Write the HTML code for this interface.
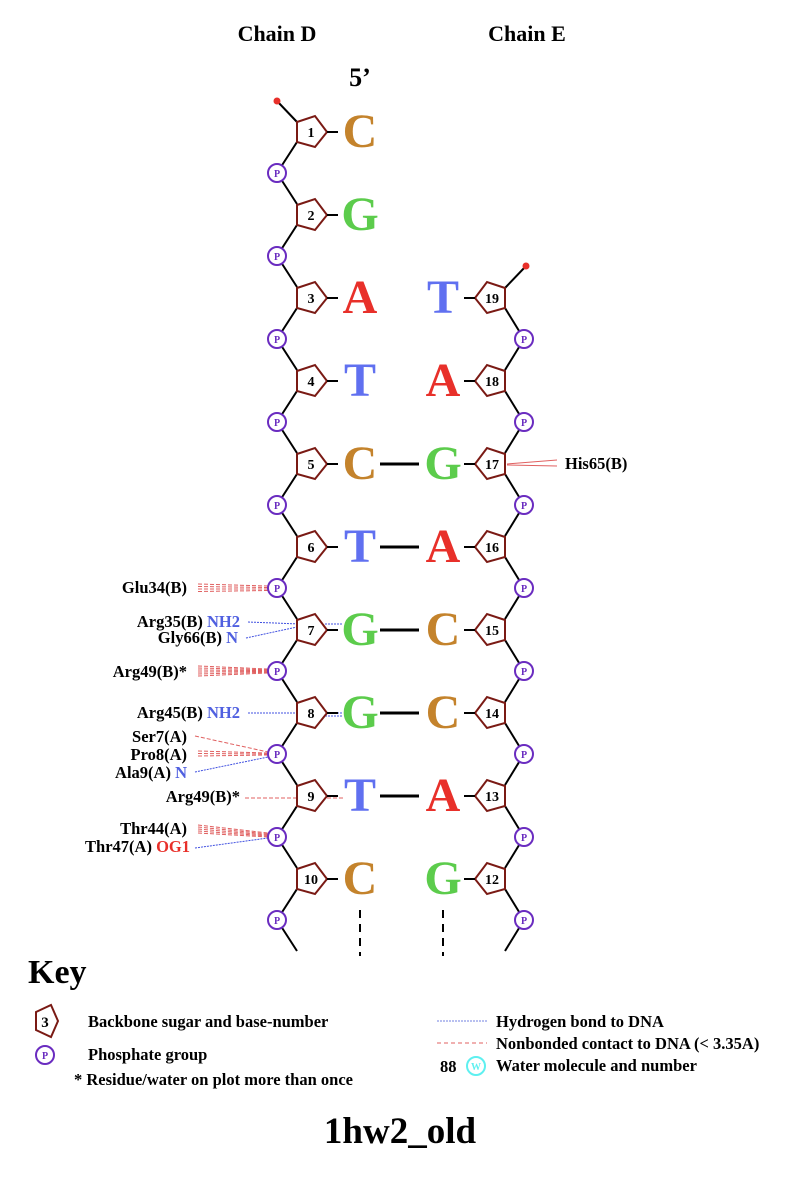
<!DOCTYPE html>
<html><head><meta charset="utf-8"><style>
html,body{margin:0;padding:0;background:#fff}
svg{display:block}
text{font-family:"Liberation Serif",serif;font-weight:bold}
</style></head><body>
<svg width="792" height="1181" viewBox="0 0 792 1181" xmlns="http://www.w3.org/2000/svg">
<g id="m"></g>
</svg>
<script>
const s=document.querySelector('svg');
let h='';
const L=(x1,y1,x2,y2,c='#000',w=2,d='')=>{h+=`<line x1="${x1}" y1="${y1}" x2="${x2}" y2="${y2}" stroke="${c}" stroke-width="${w}" ${d?`stroke-dasharray="${d}"`:''}/>`};
const T=(x,y,t,sz,c='#000',a='start')=>{h+=`<text x="${x}" y="${y}" font-size="${sz}" fill="${c}" text-anchor="${a}">${t}</text>`};
const P=(x,y)=>{h+=`<circle cx="${x}" cy="${y}" r="9" fill="#fff" stroke="#6a2cc0" stroke-width="2"/>`;T(x,y+4,'P',10,'#6a2cc0','middle')};
const col={C:'#c4832c',G:'#5ccc4c',A:'#e8302a',T:'#6070f0'};
T(277,41,'Chain D',22,'#000','middle');T(527,41,'Chain E',22,'#000','middle');
T(360,86,'5’',26,'#000','middle');
const left='CGATCTGGTC',right='TAGACCAG';
L(277,101,297,122);
h+=`<circle cx="277" cy="101" r="3.5" fill="#e8302a"/>`;
for(let i=0;i<10;i++){const cy=132+83*i,py=cy+41;L(297,cy+10,277,py);L(277,py,297,py+31);}
for(let i=2;i<10;i++){const cy=132+83*i,py=cy+41;L(505,cy+10,524,py);L(524,py,505,py+31);}
L(505,288,526,266);h+=`<circle cx="526" cy="266" r="3.5" fill="#e8302a"/>`;
const R='#e06060',B='#4050e0';
for(let k=0;k<4;k++){L(198,584+k*2.5,268,586+k*1.5,R,1,'4,2');}
L(248,622,300,624,B,1,'2,1');L(325,624,343,624,B,1,'2,1');
L(246,638,297,627,B,1,'2,1');
for(let k=0;k<6;k++){L(198,666+k*2,268,669+k*0.8,R,1,'4,2');}
L(248,713,297,713,B,1,'2,1');L(325,713,343,713,B,1,'2,1');L(325,716,343,716,B,1,'2,1');
L(195,736,268,752,R,1,'4,2');
for(let k=0;k<3;k++){L(198,751+k*2.5,268,753+k*1,R,1,'4,2');}
L(195,772,268,757,B,1,'2,1');
L(245,798,297,798,R,1,'4,2');L(327,798,343,798,R,1,'4,2');
for(let k=0;k<5;k++){L(198,825+k*2,268,833+k*1,R,1,'4,2');}
L(195,848,268,838,B,1,'2,1');
L(507,464,557,460,R,1);L(507,465,557,466,R,1);
for(let i=0;i<10;i++){const cy=132+83*i;
 h+=`<polygon points="297,${cy-10} 315,${cy-16} 327,${cy} 315,${cy+15} 297,${cy+10}" fill="#fff" stroke="#7a1a14" stroke-width="2"/>`;
 T(311,cy+5,i+1,14,'#000','middle');L(327,cy,338,cy);
 T(360,cy+15,left[i],48,col[left[i]],'middle');
 P(277,cy+41);}
for(let i=2;i<10;i++){const cy=132+83*i;
 h+=`<polygon points="505,${cy-10} 487,${cy-16} 475,${cy} 487,${cy+15} 505,${cy+10}" fill="#fff" stroke="#7a1a14" stroke-width="2"/>`;
 T(492,cy+5,21-i,14,'#000','middle');L(475,cy,464,cy);
 const b=right[i-2];T(443,cy+15,b,48,col[b],'middle');
 P(524,cy+41);
 if(i>=4&&i<=8)L(380,cy,419,cy,'#000',3);}
L(360,910,360,956,'#000',2,'8,6');L(443,910,443,956,'#000',2,'8,6');
const lb=(x,y,a,b,bc)=>{h+=`<text x="${x}" y="${y}" font-size="16.5" text-anchor="end">${a}${b?` <tspan fill="${bc}">${b}</tspan>`:''}</text>`};
lb(187,593,'Glu34(B)');
lb(240,627,'Arg35(B)','NH2','#5060e0');
lb(238,643,'Gly66(B)','N','#5060e0');
lb(187,677,'Arg49(B)*');
lb(240,718,'Arg45(B)','NH2','#5060e0');
lb(187,742,'Ser7(A)');
lb(187,760,'Pro8(A)');
lb(187,778,'Ala9(A)','N','#5060e0');
lb(240,802,'Arg49(B)*');
lb(187,834,'Thr44(A)');
lb(190,852,'Thr47(A)','OG1','#e8302a');
T(565,469,'His65(B)',16.5);
T(28,983,'Key',34);
h+=`<polygon points="36,1012 51,1005 58,1021 51,1037 36,1030" fill="#fff" stroke="#7a1a14" stroke-width="2"/>`;
T(45,1027,'3',15,'#000','middle');
T(88,1027,'Backbone sugar and base-number',16.5);
h+=`<circle cx="45" cy="1055" r="9" fill="#fff" stroke="#6a2cc0" stroke-width="2"/>`;T(45,1059,'P',10,'#6a2cc0','middle');
T(88,1060,'Phosphate group',16.5);
T(74,1085,'* Residue/water on plot more than once',16.5);
L(437,1021,487,1021,'#7080e0',1,'2,1');T(496,1027,'Hydrogen bond to DNA',16.5);
L(437,1043,487,1043,R,1,'4,3');T(496,1049,'Nonbonded contact to DNA (&lt; 3.35A)',16.5);
T(440,1072,'88',16.5);
h+=`<circle cx="476" cy="1066" r="9" fill="#fff" stroke="#5ef0f0" stroke-width="2"/>`;T(476,1070,'W',10,'#5ef0f0','middle');
T(496,1071,'Water molecule and number',16.5);
T(400,1143,'1hw2_old',37,'#000','middle');
document.getElementById('m').innerHTML=h;
</script>
</body></html>
